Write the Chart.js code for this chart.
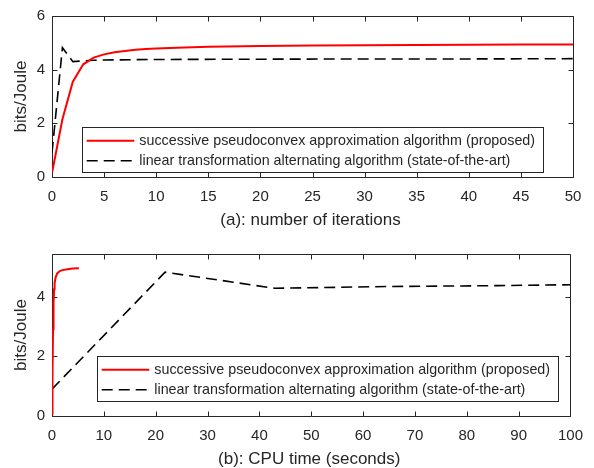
<!DOCTYPE html>
<html>
<head>
<meta charset="utf-8">
<script src="https://cdn.jsdelivr.net/npm/chart.js@4"></script>
<style>
	body { margin: 0; background: #fff; }
	#wrap { position: relative; width: 594px; height: 468px; }
	canvas { position: absolute; left: 0; }
</style>
</head>
<body>
<div id="wrap">
	<canvas id="chart-a" width="594" height="234" style="top:0"></canvas>
	<canvas id="chart-b" width="594" height="234" style="top:234px"></canvas>
</div>
<script>
// (a) energy efficiency vs. iteration
const iterRed = [0, 1, 2, 3, 4, 5, 6, 7, 8, 9, 10, 12, 15, 20, 25, 30, 35, 40, 45, 50];
const eeRedIter = [0.15, 2.15, 3.55, 4.2, 4.45, 4.57, 4.65, 4.7, 4.74, 4.77, 4.79, 4.82, 4.85, 4.88, 4.9, 4.91, 4.92, 4.93, 4.94, 4.94];
const iterBlack = [0, 1, 2, 3, 4, 5, 10, 20, 30, 40, 50];
const eeBlackIter = [0.9, 4.82, 4.3, 4.33, 4.35, 4.36, 4.38, 4.39, 4.4, 4.4, 4.41];

// (b) energy efficiency vs. CPU time
const timeRed = [0, 0.1, 0.2, 0.3, 0.4, 0.5, 0.7, 1.0, 1.5, 2.0, 3.0, 4.0, 5.2];
const eeRedTime = [0.08, 1.4, 2.9, 3.8, 4.25, 4.45, 4.65, 4.78, 4.86, 4.89, 4.92, 4.94, 4.95];
const timeBlack = [0, 21.8, 43, 64.5, 86, 100];
const eeBlackTime = [0.9, 4.82, 4.28, 4.34, 4.37, 4.4];

// ticks and axis limits
const xTicksA = [0, 5, 10, 15, 20, 25, 30, 35, 40, 45, 50];
const yTicksA = [0, 2, 4, 6];
const xTicksB = [0, 10, 20, 30, 40, 50, 60, 70, 80, 90, 100];
const yTicksB = [0, 2, 4];
const yMaxB = 5.43;

const seriesNames = [
	"successive pseudoconvex approximation algorithm (proposed)",
	"linear transformation alternating algorithm (state-of-the-art)",
];
const xLabelA = "(a): number of iterations";
const xLabelB = "(b): CPU time (seconds)";
const yLabel = "bits/Joule";

const AXIS_COLOR = "#262626";
const FONT = "'Liberation Sans', Arial, sans-serif";

const toPoints = (xs, ys) => xs.map((x, i) => ({ x: x, y: ys[i] }));

/**
 * MATLAB風の枠・内向き目盛り（線の下）と、凡例・軸ラベル（線の上）を描く。
 */
const matlabAxes = {
	id: "matlabAxes",
	beforeDatasetsDraw(chart) {
		const { ctx, chartArea: a, scales } = chart;
		const L = Math.round(a.left) + 0.5;
		const R = Math.round(a.right) + 0.5;
		const T = Math.round(a.top) + 0.5;
		const B = Math.round(a.bottom) + 0.5;
		const tick = 5;

		ctx.save();
		ctx.strokeStyle = AXIS_COLOR;
		ctx.lineWidth = 1;
		ctx.beginPath();
		ctx.rect(L, T, R - L, B - T);
		for (const t of scales.x.ticks) {
			const px = Math.round(scales.x.getPixelForValue(t.value)) + 0.5;
			ctx.moveTo(px, B); ctx.lineTo(px, B - tick);
			ctx.moveTo(px, T); ctx.lineTo(px, T + tick);
		}
		for (const t of scales.y.ticks) {
			const py = Math.round(scales.y.getPixelForValue(t.value)) + 0.5;
			ctx.moveTo(L, py); ctx.lineTo(L + tick, py);
			ctx.moveTo(R, py); ctx.lineTo(R - tick, py);
		}
		ctx.stroke();
		ctx.restore();
	},
	afterDatasetsDraw(chart, args, opts) {
		const { ctx, chartArea: a } = chart;
		ctx.save();

		// 凡例
		const lg = opts.legend;
		ctx.strokeStyle = AXIS_COLOR;
		ctx.lineWidth = 1;
		ctx.fillStyle = "#fff";
		ctx.fillRect(lg.left, lg.top, lg.width, lg.height);
		ctx.strokeRect(lg.left + 0.5, lg.top + 0.5, lg.width, lg.height);
		ctx.font = `14.3px ${FONT}`;
		ctx.textBaseline = "middle";
		ctx.textAlign = "left";
		chart.data.datasets.forEach((ds, i) => {
			const y = lg.top + 13.7 + i * 20;
			ctx.beginPath();
			ctx.strokeStyle = ds.borderColor;
			ctx.lineWidth = ds.borderWidth;
			ctx.setLineDash(ds.borderDash || []);
			ctx.moveTo(lg.left + 4.7, y);
			ctx.lineTo(lg.left + 52.3, y);
			ctx.stroke();
			ctx.fillStyle = AXIS_COLOR;
			ctx.fillText(ds.label, lg.left + 57.3, y);
		});

		// 軸ラベル
		ctx.fillStyle = AXIS_COLOR;
		ctx.font = `17px ${FONT}`;
		ctx.textAlign = "center";
		ctx.fillText(opts.xTitle, (a.left + a.right) / 2 - 2, a.bottom + 43);
		ctx.translate(21, (a.top + a.bottom) / 2);
		ctx.rotate(-Math.PI / 2);
		ctx.fillText(opts.yTitle, 0, 0);
		ctx.restore();
	},
};

function makePanel(canvasId, panel) {
	const ctx = document.getElementById(canvasId).getContext("2d");
	const tickFont = { family: FONT, size: 15 };
	return new Chart(ctx, {
		type: "line",
		data: {
			datasets: [
				{
					label: seriesNames[0],
					data: panel.red,
					borderColor: "#ff0000",
					borderWidth: 2,
					pointRadius: 0,
					tension: 0,
				},
				{
					label: seriesNames[1],
					data: panel.black,
					borderColor: "#000000",
					borderWidth: 1.6,
					borderDash: [11, 6],
					pointRadius: 0,
					tension: 0,
				},
			],
		},
		options: {
			responsive: false,
			animation: false,
			devicePixelRatio: 1,
			layout: { padding: { left: 0, top: panel.top, right: 21, bottom: 0 } },
			scales: {
				x: {
					type: "linear",
					min: panel.xTicks[0],
					max: panel.xTicks[panel.xTicks.length - 1],
					afterBuildTicks: (s) => { s.ticks = panel.xTicks.map((v) => ({ value: v })); },
					afterFit: (s) => { s.height = panel.xHeight; },
					grid: { display: false, drawTicks: false },
					border: { display: false },
					ticks: { font: tickFont, color: AXIS_COLOR, padding: 11, maxRotation: 0 },
				},
				y: {
					type: "linear",
					min: 0,
					max: panel.yMax,
					afterBuildTicks: (s) => { s.ticks = panel.yTicks.map((v) => ({ value: v })); },
					afterFit: (s) => { s.width = 52; },
					grid: { display: false, drawTicks: false },
					border: { display: false },
					ticks: { font: tickFont, color: AXIS_COLOR, padding: 7 },
				},
			},
			plugins: {
				legend: { display: false },
				tooltip: { enabled: false },
				matlabAxes: {
					legend: panel.legend,
					xTitle: panel.xTitle,
					yTitle: yLabel,
				},
			},
		},
		plugins: [matlabAxes],
	});
}

makePanel("chart-a", {
	red: toPoints(iterRed, eeRedIter),
	black: toPoints(iterBlack, eeBlackIter),
	xTicks: xTicksA,
	yTicks: yTicksA,
	yMax: 6,
	top: 14,
	xHeight: 57,
	legend: { left: 82, top: 127, width: 461, height: 45 },
	xTitle: xLabelA,
});

makePanel("chart-b", {
	red: toPoints(timeRed, eeRedTime),
	black: toPoints(timeBlack, eeBlackTime),
	xTicks: xTicksB,
	yTicks: yTicksB,
	yMax: yMaxB,
	top: 20,
	xHeight: 52,
	legend: { left: 97, top: 122, width: 461, height: 45 },
	xTitle: xLabelB,
});
</script>
</body>
</html>
